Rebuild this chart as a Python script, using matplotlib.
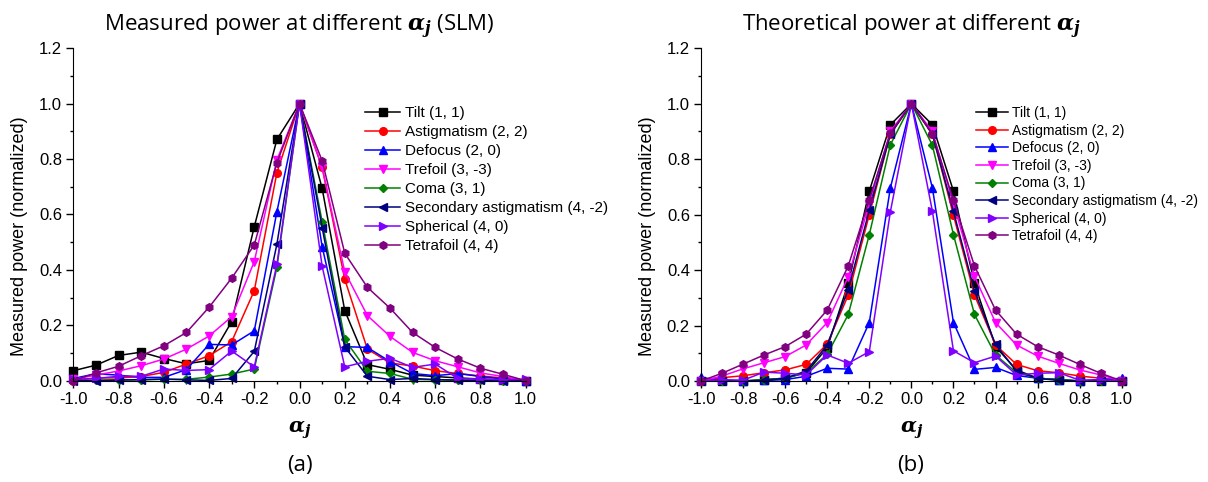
import numpy as np
import matplotlib
matplotlib.use("Agg")
import matplotlib.pyplot as plt
from matplotlib.ticker import MultipleLocator

plt.rcParams['font.family'] = ['Liberation Sans', 'DejaVu Sans']
plt.rcParams['mathtext.fontset'] = 'custom'
plt.rcParams['mathtext.it'] = 'DejaVu Serif:italic:bold'
plt.rcParams['mathtext.rm'] = 'DejaVu Serif:bold'

# x grid (alpha_j)
alpha = [-1.0, -0.9, -0.8, -0.7, -0.6, -0.5, -0.4, -0.3, -0.2, -0.1, 0.0,
         0.1, 0.2, 0.3, 0.4, 0.5, 0.6, 0.7, 0.8, 0.9, 1.0]

labels = ['Tilt (1, 1)', 'Astigmatism (2, 2)', 'Defocus (2, 0)', 'Trefoil (3, -3)',
          'Coma (3, 1)', 'Secondary astigmatism (4, -2)', 'Spherical (4, 0)', 'Tetrafoil (4, 4)']
colors = ['#000000', '#FF0000', '#0000FF', '#FF00FF', '#008000', '#000080', '#8000FF', '#800080']
markers = ['s', 'o', '^', 'v', 'D', '<', '>', 'h']

# measured (SLM)
tilt_m = [0.036, 0.056, 0.091, 0.103, 0.08, 0.061, 0.073, 0.213, 0.556, 0.871, 1.0,
          0.694, 0.253, 0.058, 0.041, 0.02, 0.015, 0.01, 0.006, 0.003, 0.0]
astig_m = [0.0, 0.01, 0.01, 0.015, 0.03, 0.06, 0.09, 0.141, 0.325, 0.751, 1.0,
           0.77, 0.366, 0.114, 0.064, 0.053, 0.036, 0.026, 0.017, 0.01, 0.0]
defocus_m = [0.008, 0.025, 0.02, 0.012, 0.012, 0.04, 0.131, 0.129, 0.18, 0.61, 1.0,
             0.484, 0.123, 0.12, 0.069, 0.026, 0.018, 0.026, 0.015, 0.006, 0.0]
trefoil_m = [0.005, 0.02, 0.035, 0.054, 0.078, 0.114, 0.161, 0.231, 0.43, 0.797, 1.0,
             0.77, 0.393, 0.235, 0.16, 0.102, 0.072, 0.05, 0.028, 0.015, 0.0]
coma_m = [0.0, 0.002, 0.003, 0.003, 0.005, 0.005, 0.013, 0.024, 0.042, 0.409, 1.0,
          0.574, 0.149, 0.034, 0.026, 0.005, 0.003, 0.002, 0.001, 0.0, 0.0]
sec_m = [0.0, 0.0, 0.002, 0.004, 0.006, 0.003, 0.001, 0.008, 0.106, 0.493, 1.0,
         0.553, 0.122, 0.016, 0.004, 0.008, 0.004, 0.002, 0.001, 0.0, 0.0]
sph_m = [0.005, 0.008, 0.016, 0.016, 0.042, 0.037, 0.04, 0.107, 0.05, 0.42, 1.0,
         0.413, 0.05, 0.07, 0.081, 0.048, 0.06, 0.008, 0.006, 0.003, 0.005]
tetra_m = [0.0, 0.028, 0.052, 0.09, 0.126, 0.174, 0.265, 0.37, 0.49, 0.787, 1.0,
           0.794, 0.46, 0.337, 0.262, 0.174, 0.12, 0.078, 0.045, 0.023, 0.0]

# theoretical
tilt_t = [0.0, 0.0, 0.0, 0.005, 0.01, 0.03, 0.12, 0.352, 0.685, 0.924, 1.0,
          0.924, 0.685, 0.352, 0.124, 0.04, 0.01, 0.005, 0.0, 0.0, 0.0]
astig_t = [0.0, 0.012, 0.019, 0.03, 0.04, 0.06, 0.133, 0.31, 0.6, 0.89, 1.0,
           0.89, 0.598, 0.31, 0.13, 0.06, 0.037, 0.03, 0.018, 0.01, 0.0]
defocus_t = [0.013, 0.002, 0.0, 0.002, 0.005, 0.017, 0.046, 0.043, 0.211, 0.696, 1.0,
             0.696, 0.211, 0.042, 0.049, 0.02, 0.01, 0.005, 0.0, 0.005, 0.01]
trefoil_t = [0.0, 0.018, 0.044, 0.066, 0.088, 0.13, 0.211, 0.376, 0.64, 0.9, 1.0,
             0.9, 0.64, 0.378, 0.211, 0.13, 0.09, 0.064, 0.04, 0.022, 0.0]
coma_t = [0.0, 0.0, 0.0, 0.005, 0.01, 0.03, 0.096, 0.24, 0.528, 0.852, 1.0,
          0.85, 0.528, 0.24, 0.094, 0.03, 0.01, 0.005, 0.0, 0.0, 0.0]
sec_t = [0.0, 0.0, 0.0, 0.002, 0.01, 0.036, 0.13, 0.33, 0.616, 0.89, 1.0,
         0.89, 0.612, 0.325, 0.132, 0.035, 0.01, 0.002, 0.0, 0.0, 0.0]
sph_t = [0.0, 0.005, 0.003, 0.032, 0.028, 0.022, 0.094, 0.064, 0.106, 0.61, 1.0,
         0.612, 0.109, 0.066, 0.09, 0.022, 0.028, 0.03, 0.003, 0.005, 0.0]
tetra_t = [0.0, 0.028, 0.061, 0.094, 0.124, 0.169, 0.256, 0.415, 0.654, 0.894, 1.0,
           0.892, 0.652, 0.415, 0.256, 0.169, 0.124, 0.094, 0.06, 0.028, 0.0]

measured = [tilt_m, astig_m, defocus_m, trefoil_m, coma_m, sec_m, sph_m, tetra_m]
theory = [tilt_t, astig_t, defocus_t, trefoil_t, coma_t, sec_t, sph_t, tetra_t]

fig = plt.figure(figsize=(12.08, 4.82), dpi=100)
ax1 = fig.add_axes([0.0607, 0.2102, 0.3745, 0.6896])
ax2 = fig.add_axes([0.5803, 0.2095, 0.3483, 0.6903])


def style_axes(ax, ylab_x):
    ax.set_xlim(-1.0, 1.0)
    ax.set_ylim(0, 1.2)
    ax.spines['top'].set_visible(False)
    ax.spines['right'].set_visible(False)
    ax.xaxis.set_major_locator(MultipleLocator(0.2))
    ax.xaxis.set_minor_locator(MultipleLocator(0.1))
    ax.yaxis.set_major_locator(MultipleLocator(0.2))
    ax.yaxis.set_minor_locator(MultipleLocator(0.1))
    ax.xaxis.set_major_formatter(lambda v, p: f'{v:.1f}')
    ax.yaxis.set_major_formatter(lambda v, p: f'{v:.1f}')
    ax.tick_params(which='major', direction='out', length=5, width=1, labelsize=12, pad=3)
    ax.tick_params(which='minor', direction='out', length=2.5, width=1)
    ax.set_ylabel('Measured power (normalized)', fontsize=13)
    ax.yaxis.set_label_coords(ylab_x, 0.435)
    ax.set_xlabel(r'$\alpha_j$', fontsize=15, labelpad=9)


for ax, data, lx in [(ax1, measured, -0.100), (ax2, theory, -0.107)]:
    for vals, lab, c, m in zip(data, labels, colors, markers):
        ax.plot(alpha, vals, color=c, marker=m, markersize=5.5 if m != 'D' else 4.5,
                linewidth=1.1, label=lab, clip_on=False)
    style_axes(ax, lx)

ax1.set_title(r'Measured power at different $\alpha_j$ (SLM)', family='Open Sans', fontsize=16, pad=12)
ax2.set_title(r'Theoretical power at different $\alpha_j$', family='Open Sans', fontsize=16, pad=12)

ax1.legend(loc='upper left', bbox_to_anchor=(365 / 1208, 1 - 106 / 482), bbox_transform=fig.transFigure,
           frameon=False, fontsize=11, handlelength=2.3, handletextpad=0.3, labelspacing=0.33,
           borderpad=0, borderaxespad=0)
ax2.legend(loc='upper left', bbox_to_anchor=(976 / 1208, 1 - 106 / 482), bbox_transform=fig.transFigure,
           frameon=False, fontsize=10, handlelength=2.3, handletextpad=0.3, labelspacing=0.26,
           borderpad=0, borderaxespad=0)

fig.text(300 / 1208, 1 - 466 / 482, '(a)', family='Open Sans', fontsize=16, ha='center', va='center')
fig.text(911 / 1208, 1 - 466 / 482, '(b)', family='Open Sans', fontsize=16, ha='center', va='center')

fig.savefig('out.png', dpi=100)
